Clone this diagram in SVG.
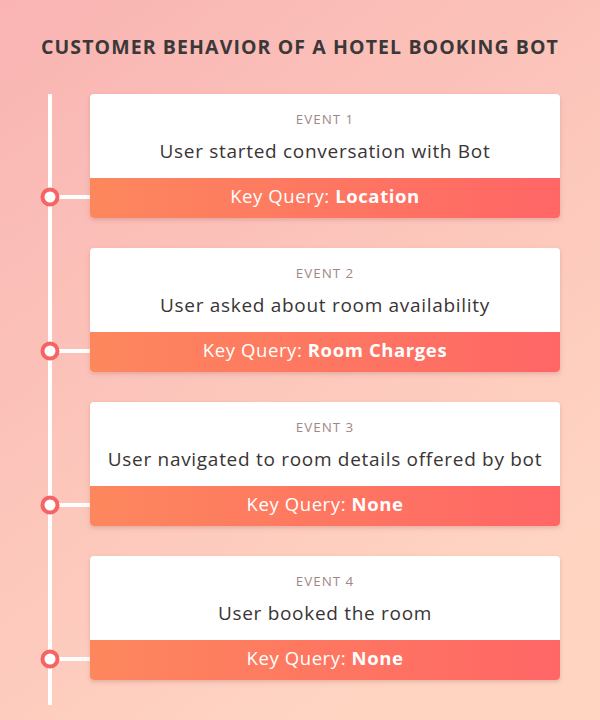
<svg xmlns="http://www.w3.org/2000/svg" width="600" height="720" viewBox="0 0 600 720">
<defs>
<linearGradient id="bg" x1="0" y1="0" x2="0.6" y2="1">
<stop offset="0" stop-color="#f9b4b3"/>
<stop offset="1" stop-color="#ffd5c2"/>
</linearGradient>
<linearGradient id="bar" x1="0" y1="0" x2="1" y2="0">
<stop offset="0" stop-color="#fd875d"/>
<stop offset="1" stop-color="#ff6666"/>
</linearGradient>
<filter id="sh" x="-5%" y="-10%" width="110%" height="130%">
<feDropShadow dx="0" dy="2" stdDeviation="2" flood-color="#b06060" flood-opacity="0.3"/>
</filter>
<clipPath id="cc"><rect x="0" y="0" width="470" height="124" rx="4"/></clipPath>
</defs>
<style>
.title{font-family:"Open Sans","Liberation Sans",sans-serif;font-weight:700;font-size:19.5px;fill:#3b3838;letter-spacing:1.1px;text-anchor:middle}
.ev{font-family:"Open Sans","Liberation Sans",sans-serif;font-size:13.4px;fill:#a08886;letter-spacing:1px;text-anchor:middle}
.desc{font-family:"Open Sans","Liberation Sans",sans-serif;font-size:19px;fill:#3a3434;letter-spacing:0.7px;text-anchor:middle}
.kq{font-family:"Open Sans","Liberation Sans",sans-serif;font-size:18.5px;fill:#fff;letter-spacing:0.6px;text-anchor:middle}
.kq tspan{font-weight:700}
.line{stroke:#fff;stroke-width:4;fill:none}
.dot{fill:#fff;stroke:#f56364;stroke-width:4}
</style>
<rect width="600" height="720" fill="url(#bg)"/>
<text class="title" x="300" y="54">CUSTOMER BEHAVIOR OF A HOTEL BOOKING BOT</text>
<g id="connectors">
<line class="line" x1="50" y1="94" x2="50" y2="705"/>
<line class="line" x1="50" y1="197" x2="90" y2="197"/>
<line class="line" x1="50" y1="351" x2="90" y2="351"/>
<line class="line" x1="50" y1="505" x2="90" y2="505"/>
<line class="line" x1="50" y1="659" x2="90" y2="659"/>
<circle class="dot" cx="50" cy="197" r="7.5"/>
<circle class="dot" cx="50" cy="351" r="7.5"/>
<circle class="dot" cx="50" cy="505" r="7.5"/>
<circle class="dot" cx="50" cy="659" r="7.5"/>
</g>
<g id="event1" transform="translate(90,94)">
<g filter="url(#sh)"><g clip-path="url(#cc)"><rect width="470" height="124" fill="#fff"/><rect y="84" width="470" height="40" fill="url(#bar)"/></g></g>
<text class="ev" x="235" y="30">EVENT 1</text>
<text class="desc" x="235" y="64">User started conversation with Bot</text>
<text class="kq" x="235" y="109">Key Query: <tspan>Location</tspan></text>
</g>
<g id="event2" transform="translate(90,248)">
<g filter="url(#sh)"><g clip-path="url(#cc)"><rect width="470" height="124" fill="#fff"/><rect y="84" width="470" height="40" fill="url(#bar)"/></g></g>
<text class="ev" x="235" y="30">EVENT 2</text>
<text class="desc" x="235" y="64">User asked about room availability</text>
<text class="kq" x="235" y="109">Key Query: <tspan>Room Charges</tspan></text>
</g>
<g id="event3" transform="translate(90,402)">
<g filter="url(#sh)"><g clip-path="url(#cc)"><rect width="470" height="124" fill="#fff"/><rect y="84" width="470" height="40" fill="url(#bar)"/></g></g>
<text class="ev" x="235" y="30">EVENT 3</text>
<text class="desc" x="235" y="64">User navigated to room details offered by bot</text>
<text class="kq" x="235" y="109">Key Query: <tspan>None</tspan></text>
</g>
<g id="event4" transform="translate(90,556)">
<g filter="url(#sh)"><g clip-path="url(#cc)"><rect width="470" height="124" fill="#fff"/><rect y="84" width="470" height="40" fill="url(#bar)"/></g></g>
<text class="ev" x="235" y="30">EVENT 4</text>
<text class="desc" x="235" y="64">User booked the room</text>
<text class="kq" x="235" y="109">Key Query: <tspan>None</tspan></text>
</g>
</svg>
